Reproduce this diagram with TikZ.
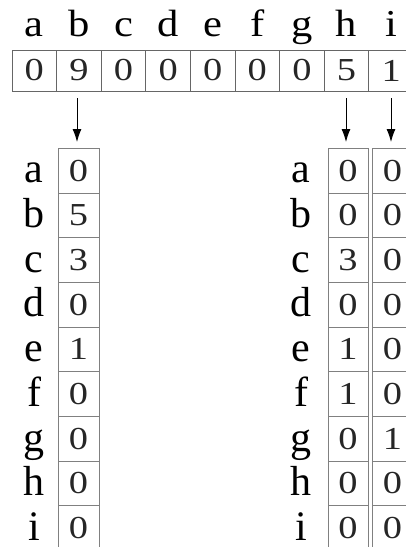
\documentclass[tikz,border=0pt]{standalone}
\usepackage{fontspec}
\setmainfont{Liberation Serif}
\newfontfamily\digitfont[FakeStretch=1.2]{Liberation Serif}
\newfontfamily\topfont[FakeStretch=1.12]{Liberation Serif}
\usetikzlibrary{arrows.meta}
\begin{document}
\begin{tikzpicture}[x=1pt,y=-1pt,
  lbl/.style={font=\fontsize{42}{44}\selectfont, anchor=base, inner sep=0pt},
  toplbl/.style={font=\topfont\fontsize{38}{40}\selectfont, anchor=base, inner sep=0pt},
  num/.style={font=\digitfont\fontsize{32}{34}\selectfont, text=black!85, inner sep=0pt},
  topcell/.style={draw=black!60, line width=0.8pt, minimum width=44.6pt, minimum height=41pt, inner sep=0pt},
  colcell/.style={draw=black!50, line width=0.8pt, minimum height=44.7pt, inner sep=0pt},
  arr/.style={line width=0.9pt, -{Latex[length=13pt,width=9pt]}}]
\useasboundingbox (0,0) rectangle (406,547);
% top row
\foreach \l/\v [count=\i from 0] in {a/0,b/9,c/0,d/0,e/0,f/0,g/0,h/5,i/1}{
  \node[topcell] (t-\l) at ({34.3+44.6*\i},70.5) {};
  \node[num] (tv-\l) at (t-\l.center) {\v};
  \node[toplbl] (tl-\l) at ({34.3+44.6*\i},36) {\l};
}
% left column (b)
\foreach \l/\v [count=\i from 0] in {a/0,b/5,c/3,d/0,e/1,f/0,g/0,h/0,i/0}{
  \node[colcell, minimum width=41pt] (b-\l) at (78.5,{170.6+44.7*\i}) {};
  \node[num] (bv-\l) at (b-\l.center) {\v};
  \node[lbl] (bl-\l) at (34,{182.8+44.7*\i}) {\l};
}
% right columns (h, i)
\foreach \l/\v/\w [count=\i from 0] in {a/0/0,b/0/0,c/3/0,d/0/0,e/1/0,f/1/0,g/0/1,h/0/0,i/0/0}{
  \node[colcell, minimum width=40pt] (h-\l) at (348,{170.6+44.7*\i}) {};
  \node[num] (hv-\l) at (h-\l.center) {\v};
  \node[colcell, minimum width=40pt] (i-\l) at (392.5,{170.6+44.7*\i}) {};
  \node[num] (iv-\l) at (i-\l.center) {\w};
  \node[lbl] (hl-\l) at (301,{182.8+44.7*\i}) {\l};
}
% arrows
\coordinate (ab-s) at (77,98);
\coordinate (ab-e) at (77,142);
\coordinate (ah-s) at (346,98);
\coordinate (ah-e) at (346,142);
\coordinate (ai-s) at (391,98);
\coordinate (ai-e) at (391,142);
\draw[arr] (ab-s) -- (ab-e);
\draw[arr] (ah-s) -- (ah-e);
\draw[arr] (ai-s) -- (ai-e);
\end{tikzpicture}
\end{document}
